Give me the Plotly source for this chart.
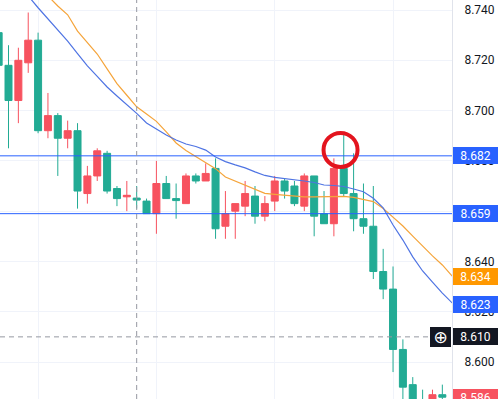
import plotly.graph_objects as go

# ---- data ----
bar_index = list(range(46))
opens = [8.731, 8.718, 8.704, 8.719, 8.728, 8.692, 8.698, 8.689, 8.692, 8.667,
         8.674, 8.683, 8.669, 8.6657, 8.6652, 8.664, 8.659, 8.671, 8.665, 8.663,
         8.674, 8.672, 8.677, 8.654, 8.660, 8.662, 8.666, 8.658, 8.664, 8.672,
         8.670, 8.662, 8.674, 8.659, 8.655, 8.677, 8.667, 8.657, 8.654, 8.636,
         8.629, 8.605, 8.591, 8.585, 8.582, 8.587]
highs = [8.732, 8.726, 8.725, 8.739, 8.731, 8.707, 8.699, 8.696, 8.695, 8.678,
         8.685, 8.684, 8.670, 8.672, 8.670, 8.665, 8.680, 8.674, 8.671, 8.675,
         8.675, 8.679, 8.681, 8.668, 8.663, 8.672, 8.670, 8.666, 8.674, 8.673,
         8.672, 8.675, 8.674, 8.668, 8.681, 8.691, 8.683, 8.671, 8.670, 8.645,
         8.638, 8.609, 8.594, 8.589, 8.589, 8.591]
lows = [8.717, 8.685, 8.695, 8.715, 8.691, 8.689, 8.674, 8.685, 8.661, 8.663,
        8.672, 8.667, 8.662, 8.660, 8.661, 8.659, 8.651, 8.665, 8.657, 8.663,
        8.671, 8.672, 8.649, 8.649, 8.649, 8.658, 8.655, 8.656, 8.660, 8.665,
        8.662, 8.660, 8.650, 8.655, 8.650, 8.666, 8.652, 8.651, 8.633, 8.625,
        8.596, 8.583, 8.579, 8.579, 8.580, 8.584]
closes = [8.718, 8.704, 8.720, 8.728, 8.692, 8.698, 8.689, 8.692, 8.668, 8.674,
          8.684, 8.668, 8.665, 8.6663, 8.6644, 8.659, 8.671, 8.665, 8.6642, 8.674,
          8.672, 8.675, 8.653, 8.659, 8.663, 8.667, 8.658, 8.663, 8.672, 8.668,
          8.663, 8.674, 8.658, 8.655, 8.677, 8.667, 8.657, 8.654, 8.636, 8.629,
          8.605, 8.590, 8.582, 8.582, 8.587, 8.586]

ma_index = list(range(47))
ma_fast = [8.7595, 8.7550, 8.7503, 8.7456, 8.7409, 8.7366, 8.7322, 8.7276, 8.7227, 8.7178,
           8.7136, 8.7094, 8.7058, 8.7024, 8.6989, 8.6951, 8.6927, 8.6903, 8.6883, 8.6867,
           8.6857, 8.6843, 8.6815, 8.6797, 8.6784, 8.6772, 8.6756, 8.6742, 8.6734, 8.6730,
           8.6724, 8.6720, 8.6714, 8.6704, 8.6702, 8.6698, 8.6688, 8.6677, 8.6651, 8.6613,
           8.6545, 8.6485, 8.6418, 8.6362, 8.6318, 8.6274, 8.6235]
ma_slow = [8.7670, 8.7627, 8.7583, 8.7539, 8.7497, 8.7456, 8.7416, 8.7381, 8.7316, 8.7271,
           8.7225, 8.7166, 8.7107, 8.7061, 8.7015, 8.6986, 8.6957, 8.6915, 8.6871, 8.6841,
           8.6817, 8.6793, 8.6769, 8.6736, 8.6720, 8.6704, 8.6688, 8.6671, 8.6667, 8.6663,
           8.6660, 8.6657, 8.6657, 8.6657, 8.6658, 8.6659, 8.6655, 8.6648, 8.6638, 8.6611,
           8.6577, 8.6541, 8.6501, 8.6461, 8.6422, 8.6386, 8.6342]

levels = [8.682, 8.659]
y_ticks = [8.600, 8.620, 8.640, 8.660, 8.680, 8.700, 8.720, 8.740]
grid_index = [4, 16, 28, 40]
cursor_index = 14
cursor_price = 8.610
last_price = 8.586
highlight_index = 35

# ---- style ----
UP = "#f7525f"      # red candles (close > open)
DOWN = "#22ab94"    # green candles (close < open)
BLUE = "#2962ff"
ORANGE = "#ff9800"
FAST = "#4f74e3"
SLOW = "#f5a43a"
GRID = "#f0f3fa"
TEXT = "#131722"
FONT = "Roboto, Liberation Sans, sans-serif"

fig = go.Figure()
fig.add_trace(go.Scatter(x=ma_index, y=ma_slow, mode="lines",
                         line=dict(color=SLOW, width=1.2), hoverinfo="skip"))
fig.add_trace(go.Scatter(x=ma_index, y=ma_fast, mode="lines",
                         line=dict(color=FAST, width=1.2), hoverinfo="skip"))
fig.add_trace(go.Candlestick(
    x=bar_index, open=opens, high=highs, low=lows, close=closes,
    increasing=dict(line=dict(color=UP, width=1), fillcolor=UP),
    decreasing=dict(line=dict(color=DOWN, width=1), fillcolor=DOWN),
    whiskerwidth=0,
))

shapes = []
for lv in levels:
    shapes.append(dict(type="line", xref="paper", x0=0, x1=1, yref="y", y0=lv, y1=lv,
                       line=dict(color=BLUE, width=1), layer="above"))
# crosshair
shapes.append(dict(type="line", xref="x", x0=cursor_index, x1=cursor_index, yref="paper",
                   y0=0, y1=1, line=dict(color="#9598a1", width=1, dash="5px,4px")))
shapes.append(dict(type="line", xref="paper", x0=0, x1=0.951, yref="y",
                   y0=cursor_price, y1=cursor_price,
                   line=dict(color="#9598a1", width=1, dash="5px,4px")))
# highlight circle
shapes.append(dict(type="circle", xref="x", yref="y", xsizemode="pixel", ysizemode="pixel",
                   xanchor=highlight_index, yanchor=levels[0],
                   x0=-20.2, x1=13.8, y0=-11.1, y1=22.9,
                   line=dict(color="#e3141e", width=4), layer="above"))

badges = [
    (levels[0], BLUE),
    (levels[1], BLUE),
    (round(ma_slow[-1], 3), ORANGE),
    (round(ma_fast[-1], 3), BLUE),
    (cursor_price, TEXT),
    (last_price, UP),
]
annotations = []
for val, col in badges:
    annotations.append(dict(xref="paper", x=1, xanchor="left", xshift=0.5,
                            yref="y", y=val, yanchor="middle",
                            text=f"{val:.3f}", showarrow=False,
                            bgcolor=col, width=45, height=17, borderpad=0, borderwidth=0,
                            font=dict(color="white", size=12, family=FONT)))
annotations.append(dict(xref="paper", x=1, xanchor="right", xshift=-1,
                        yref="y", y=cursor_price, yanchor="middle",
                        text="⊕", showarrow=False, bgcolor=TEXT, width=21, height=20,
                        borderpad=0, borderwidth=0,
                        font=dict(color="white", size=17, family="DejaVu Sans")))

fig.update_layout(
    width=504, height=399,
    margin=dict(l=0, r=52, t=0, b=0),
    paper_bgcolor="white", plot_bgcolor="white",
    showlegend=False,
    boxgap=0.29, boxgroupgap=0,
    shapes=shapes, annotations=annotations,
    font=dict(family=FONT, color=TEXT, size=12),
    xaxis=dict(range=[0.138, 45.98], tickvals=grid_index, showticklabels=False,
               showgrid=True, gridcolor=GRID, zeroline=False, rangeslider=dict(visible=False),
               fixedrange=True),
    yaxis=dict(side="right", range=[8.58529, 8.74398], tickvals=y_ticks,
               ticktext=[f"{v:.3f}" for v in y_ticks], showgrid=True, gridcolor=GRID,
               zeroline=False, showline=True, linecolor="#e0e3eb", ticks="",
               ticklabelstandoff=9, tickfont=dict(size=12, color=TEXT, family=FONT),
               fixedrange=True),
)

fig.write_html("out.html", config={"displayModeBar": False},
               post_script="document.body.style.margin='0';document.body.style.overflow='hidden';")
